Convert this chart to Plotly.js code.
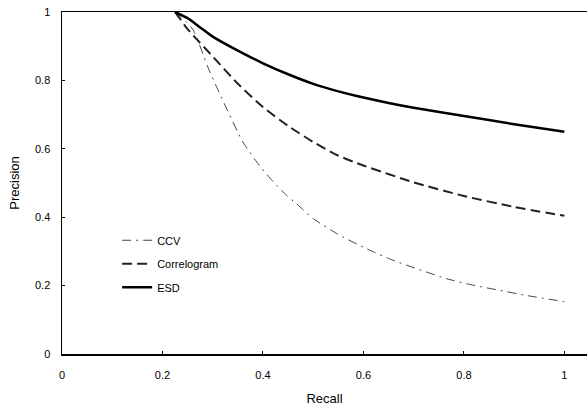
<!DOCTYPE html>
<html>
<head>
<meta charset="utf-8">
<script src="https://cdn.plot.ly/plotly-3.0.1.min.js"></script>
<style>html,body{margin:0;padding:0;background:#fff;}#chart{width:587px;height:412px;}</style>
</head>
<body>
<div id="chart"></div>
<script>
const recallCCV = [0.225, 0.26, 0.29, 0.308, 0.33, 0.36, 0.396, 0.421, 0.447, 0.474, 0.5, 0.553, 0.606, 0.659, 0.715, 0.766, 0.819, 0.872, 0.925, 1.0];
const precCCV   = [1.0, 0.95, 0.84, 0.78, 0.71, 0.62, 0.545, 0.503, 0.464, 0.43, 0.396, 0.347, 0.308, 0.274, 0.245, 0.220, 0.201, 0.186, 0.171, 0.153];

const recallCorr = [0.225, 0.25, 0.3, 0.35, 0.4, 0.45, 0.5, 0.55, 0.6, 0.7, 0.8, 0.9, 1.0];
const precCorr   = [1.0, 0.95, 0.87, 0.79, 0.722, 0.667, 0.62, 0.58, 0.551, 0.502, 0.462, 0.43, 0.404];

const recallESD = [0.225, 0.25, 0.275, 0.3, 0.35, 0.4, 0.45, 0.5, 0.55, 0.6, 0.65, 0.7, 0.8, 0.9, 1.0];
const precESD   = [1.0, 0.982, 0.955, 0.928, 0.887, 0.85, 0.818, 0.79, 0.768, 0.75, 0.734, 0.72, 0.696, 0.672, 0.65];

const seriesNames = ["CCV", "Correlogram", "ESD"];
const tickVals = [0, 0.2, 0.4, 0.6, 0.8, 1];
const tickText = ["0", "0.2", "0.4", "0.6", "0.8", "1"];

const traces = [
  {x: recallCCV, y: precCCV, name: seriesNames[0], legendgroup: "a", mode: "lines",
   line: {color: "#444", width: 1, dash: "9px,5px,2px,5px", shape: "spline", smoothing: 0.6}},
  {x: recallCorr, y: precCorr, name: seriesNames[1], legendgroup: "b", mode: "lines",
   line: {color: "#222", width: 2, dash: "10px,5px", shape: "spline", smoothing: 0.6}},
  {x: recallESD, y: precESD, name: seriesNames[2], legendgroup: "c", mode: "lines",
   line: {color: "#000", width: 2.5, shape: "spline", smoothing: 0.6}}
];

const layout = {
  width: 587, height: 412,
  margin: {l: 62, r: 0, t: 12, b: 58},
  paper_bgcolor: "#fff", plot_bgcolor: "#fff",
  font: {family: "Liberation Sans, Arial, sans-serif", color: "#000", size: 11},
  showlegend: true,
  legend: {x: 0.105, y: 0.375, xanchor: "left", yanchor: "top",
           bgcolor: "rgba(0,0,0,0)", font: {size: 11}, tracegroupgap: 4.5, itemwidth: 30},
  xaxis: {range: [0, 1.045], tickvals: tickVals, ticktext: tickText,
          showgrid: false, zeroline: false, showline: true, linecolor: "#000", linewidth: 1.5,
          mirror: true, ticks: "inside", ticklen: 3, tickcolor: "#000", ticklabelstandoff: 10,
          title: {text: "Recall", font: {size: 13}, standoff: 14}},
  yaxis: {range: [0, 1], tickvals: tickVals, ticktext: tickText,
          showgrid: false, zeroline: false, showline: true, linecolor: "#000", linewidth: 1.5,
          ticks: "inside", ticklen: 3, tickcolor: "#000", ticklabelstandoff: 8,
          title: {text: "Precision", font: {size: 13}, standoff: 12}}
};

Plotly.newPlot("chart", traces, layout, {displayModeBar: false, staticPlot: true});
</script>
</body>
</html>
